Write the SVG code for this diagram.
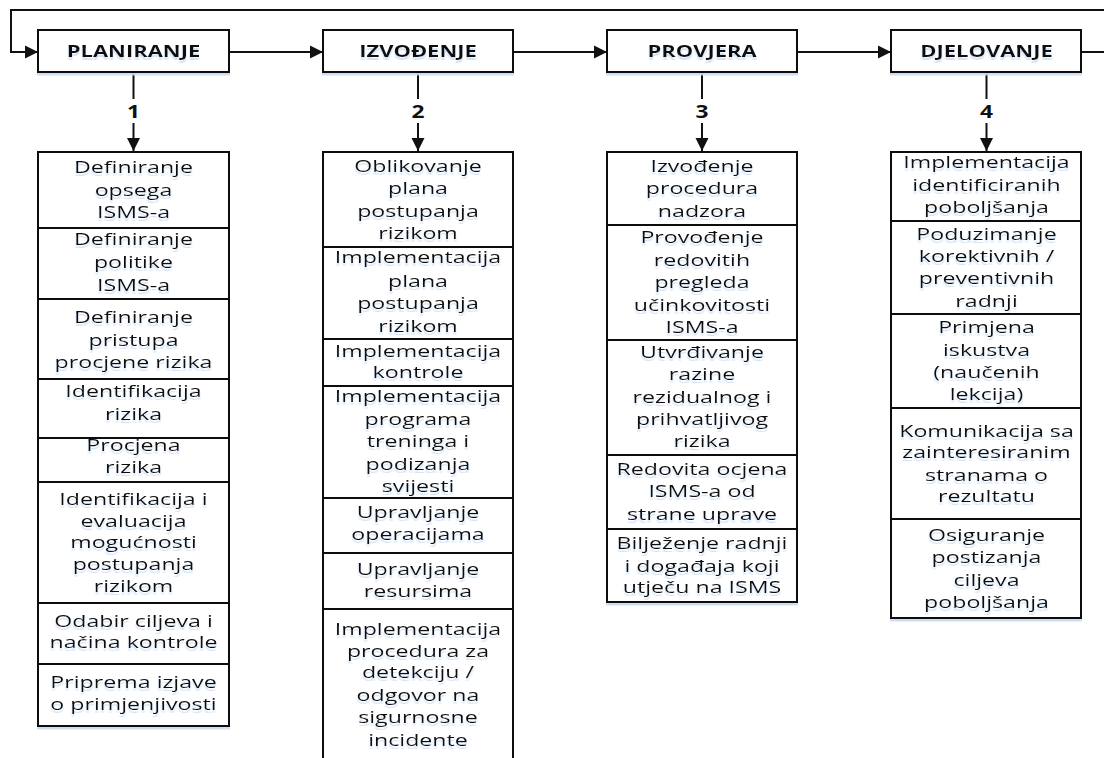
<svg xmlns="http://www.w3.org/2000/svg" width="1104" height="758" viewBox="0 0 1104 758">
<style>
.bg{fill:#ffffff}
.box{fill:#ffffff;stroke:#111111;stroke-width:2;filter:url(#sh)}
.ln{fill:none;stroke:#111111;stroke-width:2}
.t{font-family:"Open Sans","Liberation Sans",sans-serif;font-size:16px;fill:#111111;text-anchor:middle;filter:url(#tsh)}
.h{font-family:"Open Sans","Liberation Sans",sans-serif;font-size:16.5px;font-weight:bold;fill:#111111;text-anchor:middle;filter:url(#tsh)}
.n{font-family:"Open Sans","Liberation Sans",sans-serif;font-size:17px;font-weight:bold;fill:#111111;text-anchor:middle}
</style>
<defs>
<marker id="ah" markerUnits="userSpaceOnUse" markerWidth="14" markerHeight="14" refX="13" refY="7" orient="auto">
<path d="M0,0.5 L13,7 L0,13.5 z" fill="#111111"/>
</marker>
<filter id="sh" x="-5%" y="-5%" width="110%" height="120%">
<feDropShadow dx="0" dy="2.5" stdDeviation="0.4" flood-color="#c9dcf3" flood-opacity="0.9"/>
</filter>
<filter id="tsh" x="-5%" y="-20%" width="110%" height="160%">
<feDropShadow dx="0" dy="3" stdDeviation="0.6" flood-color="#c9dcf3" flood-opacity="0.8"/>
</filter>
</defs>
<rect class="bg" x="0" y="0" width="1104" height="758"/>

<g id="connectors">
<path class="ln" d="M1104,10 H11 V52 H38" marker-end="url(#ah)"/>
<path class="ln" d="M229,52 H323" marker-end="url(#ah)"/>
<path class="ln" d="M513,52 H607" marker-end="url(#ah)"/>
<path class="ln" d="M797,52 H891" marker-end="url(#ah)"/>
<path class="ln" d="M1081,52 H1104"/>
<path class="ln" d="M133.5,72 V99"/>
<path class="ln" d="M133.5,123 V151" marker-end="url(#ah)"/>
<path class="ln" d="M418,72 V99"/>
<path class="ln" d="M418,123 V151" marker-end="url(#ah)"/>
<path class="ln" d="M702,72 V99"/>
<path class="ln" d="M702,123 V151" marker-end="url(#ah)"/>
<path class="ln" d="M986.5,72 V99"/>
<path class="ln" d="M986.5,123 V151" marker-end="url(#ah)"/>
<text class="n" transform="translate(133.5 0) scale(1.34 1)" x="0" y="118">1</text>
<text class="n" transform="translate(418 0) scale(1.34 1)" x="0" y="118">2</text>
<text class="n" transform="translate(702 0) scale(1.34 1)" x="0" y="118">3</text>
<text class="n" transform="translate(986.5 0) scale(1.34 1)" x="0" y="118">4</text>
</g>

<g id="planiranje">
<rect class="box" x="38" y="30" width="191" height="42"/>
<text class="h" transform="translate(133.5 0) scale(1.33 1)" x="0" y="57">PLANIRANJE</text>
</g>
<g id="izvodenje">
<rect class="box" x="323" y="30" width="190" height="42"/>
<text class="h" transform="translate(418 0) scale(1.33 1)" x="0" y="57">IZVOĐENJE</text>
</g>
<g id="provjera">
<rect class="box" x="607" y="30" width="190" height="42"/>
<text class="h" transform="translate(702 0) scale(1.33 1)" x="0" y="57">PROVJERA</text>
</g>
<g id="djelovanje">
<rect class="box" x="891" y="30" width="190" height="42"/>
<text class="h" transform="translate(986.5 0) scale(1.33 1)" x="0" y="57">DJELOVANJE</text>
</g>

<!-- Column 1 -->
<g id="p1">
<rect class="box" x="38" y="152" width="191" height="76"/>
<text class="t" transform="translate(133.5 0) scale(1.45 1)"><tspan x="0" y="173">Definiranje</tspan><tspan x="0" y="196">opsega</tspan><tspan x="0" y="218">ISMS-a</tspan></text>
</g>
<g id="p2">
<rect class="box" x="38" y="228" width="191" height="71"/>
<text class="t" transform="translate(133.5 0) scale(1.45 1)"><tspan x="0" y="245">Definiranje</tspan><tspan x="0" y="268">politike</tspan><tspan x="0" y="291">ISMS-a</tspan></text>
</g>
<g id="p3">
<rect class="box" x="38" y="299" width="191" height="80"/>
<text class="t" transform="translate(133.5 0) scale(1.45 1)"><tspan x="0" y="323">Definiranje</tspan><tspan x="0" y="346">pristupa</tspan><tspan x="0" y="368">procjene rizika</tspan></text>
</g>
<g id="p4">
<rect class="box" x="38" y="379" width="191" height="59"/>
<text class="t" transform="translate(133.5 0) scale(1.45 1)"><tspan x="0" y="397">Identifikacija</tspan><tspan x="0" y="420">rizika</tspan></text>
</g>
<g id="p5">
<rect class="box" x="38" y="438" width="191" height="44"/>
<text class="t" transform="translate(133.5 0) scale(1.45 1)"><tspan x="0" y="451">Procjena</tspan><tspan x="0" y="473">rizika</tspan></text>
</g>
<g id="p6">
<rect class="box" x="38" y="482" width="191" height="121"/>
<text class="t" transform="translate(133.5 0) scale(1.45 1)"><tspan x="0" y="505">Identifikacija i</tspan><tspan x="0" y="527">evaluacija</tspan><tspan x="0" y="548">mogućnosti</tspan><tspan x="0" y="570">postupanja</tspan><tspan x="0" y="592">rizikom</tspan></text>
</g>
<g id="p7">
<rect class="box" x="38" y="603" width="191" height="61"/>
<text class="t" transform="translate(133.5 0) scale(1.45 1)"><tspan x="0" y="627">Odabir ciljeva i</tspan><tspan x="0" y="648">načina kontrole</tspan></text>
</g>
<g id="p8">
<rect class="box" x="38" y="664" width="191" height="62"/>
<text class="t" transform="translate(133.5 0) scale(1.45 1)"><tspan x="0" y="688">Priprema izjave</tspan><tspan x="0" y="710">o primjenjivosti</tspan></text>
</g>

<!-- Column 2 -->
<g id="i1">
<rect class="box" x="323" y="152" width="190" height="95"/>
<text class="t" transform="translate(418 0) scale(1.45 1)"><tspan x="0" y="172">Oblikovanje</tspan><tspan x="0" y="194">plana</tspan><tspan x="0" y="217">postupanja</tspan><tspan x="0" y="239">rizikom</tspan></text>
</g>
<g id="i2">
<rect class="box" x="323" y="247" width="190" height="92"/>
<text class="t" transform="translate(418 0) scale(1.45 1)"><tspan x="0" y="263">Implementacija</tspan><tspan x="0" y="287">plana</tspan><tspan x="0" y="309">postupanja</tspan><tspan x="0" y="332">rizikom</tspan></text>
</g>
<g id="i3">
<rect class="box" x="323" y="339" width="190" height="47"/>
<text class="t" transform="translate(418 0) scale(1.45 1)"><tspan x="0" y="357">Implementacija</tspan><tspan x="0" y="378">kontrole</tspan></text>
</g>
<g id="i4">
<rect class="box" x="323" y="386" width="190" height="112"/>
<text class="t" transform="translate(418 0) scale(1.45 1)"><tspan x="0" y="402">Implementacija</tspan><tspan x="0" y="425">programa</tspan><tspan x="0" y="447">treninga  i</tspan><tspan x="0" y="470">podizanja</tspan><tspan x="0" y="492">svijesti</tspan></text>
</g>
<g id="i5">
<rect class="box" x="323" y="498" width="190" height="55"/>
<text class="t" transform="translate(418 0) scale(1.45 1)"><tspan x="0" y="518">Upravljanje</tspan><tspan x="0" y="540">operacijama</tspan></text>
</g>
<g id="i6">
<rect class="box" x="323" y="553" width="190" height="56"/>
<text class="t" transform="translate(418 0) scale(1.45 1)"><tspan x="0" y="575">Upravljanje</tspan><tspan x="0" y="597">resursima</tspan></text>
</g>
<g id="i7">
<rect class="box" x="323" y="609" width="190" height="155"/>
<text class="t" transform="translate(418 0) scale(1.45 1)"><tspan x="0" y="635">Implementacija</tspan><tspan x="0" y="657">procedura za</tspan><tspan x="0" y="678">detekciju /</tspan><tspan x="0" y="701">odgovor na</tspan><tspan x="0" y="723">sigurnosne</tspan><tspan x="0" y="746">incidente</tspan></text>
</g>

<!-- Column 3 -->
<g id="r1">
<rect class="box" x="607" y="152" width="190" height="73"/>
<text class="t" transform="translate(702 0) scale(1.45 1)"><tspan x="0" y="172">Izvođenje</tspan><tspan x="0" y="194">procedura</tspan><tspan x="0" y="217">nadzora</tspan></text>
</g>
<g id="r2">
<rect class="box" x="607" y="225" width="190" height="115"/>
<text class="t" transform="translate(702 0) scale(1.45 1)"><tspan x="0" y="243">Provođenje</tspan><tspan x="0" y="266">redovitih</tspan><tspan x="0" y="288">pregleda</tspan><tspan x="0" y="311">učinkovitosti</tspan><tspan x="0" y="333">ISMS-a</tspan></text>
</g>
<g id="r3">
<rect class="box" x="607" y="340" width="190" height="115"/>
<text class="t" transform="translate(702 0) scale(1.45 1)"><tspan x="0" y="358">Utvrđivanje</tspan><tspan x="0" y="380">razine</tspan><tspan x="0" y="403">rezidualnog i</tspan><tspan x="0" y="425">prihvatljivog</tspan><tspan x="0" y="447">rizika</tspan></text>
</g>
<g id="r4">
<rect class="box" x="607" y="455" width="190" height="74"/>
<text class="t" transform="translate(702 0) scale(1.45 1)"><tspan x="0" y="475">Redovita ocjena</tspan><tspan x="0" y="497">ISMS-a od</tspan><tspan x="0" y="520">strane uprave</tspan></text>
</g>
<g id="r5">
<rect class="box" x="607" y="529" width="190" height="73"/>
<text class="t" transform="translate(702 0) scale(1.45 1)"><tspan x="0" y="549">Bilježenje radnji</tspan><tspan x="0" y="572">i događaja koji</tspan><tspan x="0" y="593">utječu na ISMS</tspan></text>
</g>

<!-- Column 4 -->
<g id="d1">
<rect class="box" x="891" y="152" width="190" height="69"/>
<text class="t" transform="translate(986.5 0) scale(1.45 1)"><tspan x="0" y="168">Implementacija</tspan><tspan x="0" y="191">identificiranih</tspan><tspan x="0" y="213">poboljšanja</tspan></text>
</g>
<g id="d2">
<rect class="box" x="891" y="221" width="190" height="93"/>
<text class="t" transform="translate(986.5 0) scale(1.45 1)"><tspan x="0" y="240">Poduzimanje</tspan><tspan x="0" y="262">korektivnih /</tspan><tspan x="0" y="284">preventivnih</tspan><tspan x="0" y="307">radnji</tspan></text>
</g>
<g id="d3">
<rect class="box" x="891" y="314" width="190" height="94"/>
<text class="t" transform="translate(986.5 0) scale(1.45 1)"><tspan x="0" y="333">Primjena</tspan><tspan x="0" y="356">iskustva</tspan><tspan x="0" y="378">(naučenih</tspan><tspan x="0" y="400">lekcija)</tspan></text>
</g>
<g id="d4">
<rect class="box" x="891" y="408" width="190" height="111"/>
<text class="t" transform="translate(986.5 0) scale(1.45 1)"><tspan x="0" y="437">Komunikacija sa</tspan><tspan x="0" y="458">zainteresiranim</tspan><tspan x="0" y="481">stranama o</tspan><tspan x="0" y="502">rezultatu</tspan></text>
</g>
<g id="d5">
<rect class="box" x="891" y="519" width="190" height="99"/>
<text class="t" transform="translate(986.5 0) scale(1.45 1)"><tspan x="0" y="541">Osiguranje</tspan><tspan x="0" y="563">postizanja</tspan><tspan x="0" y="586">ciljeva</tspan><tspan x="0" y="608">poboljšanja</tspan></text>
</g>
</svg>
